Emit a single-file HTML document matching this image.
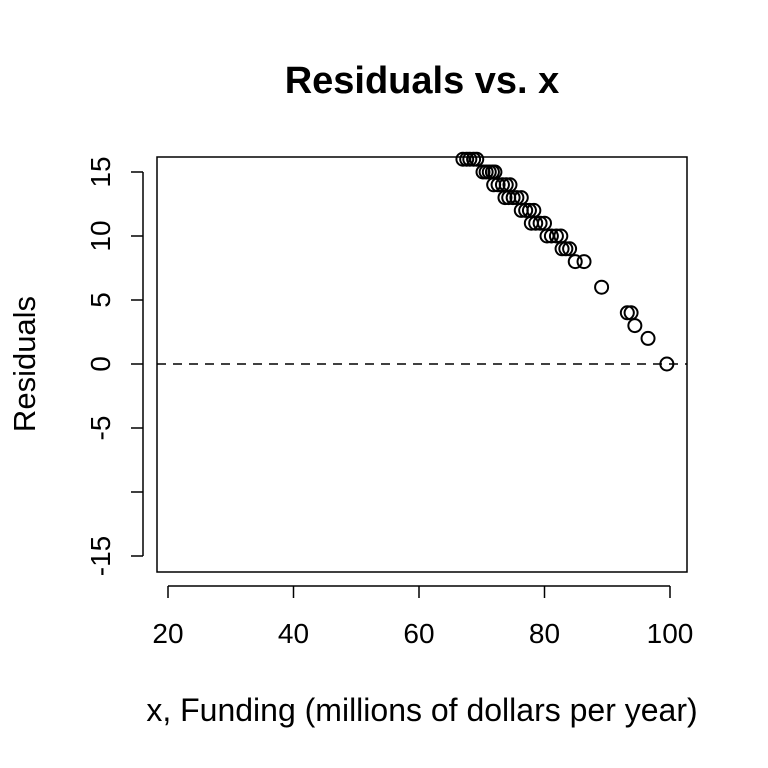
<!DOCTYPE html>
<html><head><meta charset="utf-8"><style>body{margin:0;background:#fff}svg{display:block}text{font-family:"Liberation Sans",Arial,sans-serif}</style></head>
<body>
<svg id="c" width="768" height="768">
<text x="422" y="93" text-anchor="middle" font-size="38" font-weight="bold">Residuals vs. x</text>
<text x="422" y="721" text-anchor="middle" font-size="32">x, Funding (millions of dollars per year)</text>
<text transform="translate(35,364) rotate(-90)" text-anchor="middle" font-size="31">Residuals</text>
<rect x="157" y="157" width="530" height="415" fill="none" stroke="#000" stroke-width="1.5"/>
<g id="axes"></g>
<g id="pts"></g>
</svg>
<script>
const xTicks=[20,40,60,80,100];
const yTicks=[15,10,5,0,-5,-10,-15];
const yTickLabels=["15","10","5","0","-5","","-15"];
const resLevels=[16,15,14,13,12,11,10,9,8,6,4,3,2,0];
const xValues=[[67.0,67.6,68.1,68.7,69.2],[70.2,70.7,71.2,71.7,72.1],[71.9,72.6,73.3,73.9,74.5],[73.7,74.3,75.0,75.6,76.3],[76.3,77.0,77.6,78.3],[77.9,78.6,79.3,80.0],[80.4,81.1,81.9,82.6],[82.8,83.4,84.0],[84.9,86.3],[89.1],[93.2,93.8],[94.4],[96.5],[99.5]];
const NS="http://www.w3.org/2000/svg";
const sx=v=>168+(v-20)*502/80;
const sy=v=>364-v*192/15;
function mk(t,a,p){const e=document.createElementNS(NS,t);for(const k in a)e.setAttribute(k,a[k]);p.appendChild(e);return e;}
const ax=document.getElementById('axes'),pts=document.getElementById('pts');
const xl=mk('line',{x1:sx(20),x2:sx(100),y1:586,y2:586,stroke:'#000','stroke-width':1.5},ax);


xTicks.forEach(v=>{
 const t=mk('line',{x1:sx(v),x2:sx(v),y1:586,y2:598,stroke:'#000','stroke-width':1.5},ax);
 
 
 const l=mk('text',{x:sx(v),y:643,'text-anchor':'middle','font-size':28},ax);l.textContent=v;
 
 
});
const yl=mk('line',{x1:143,x2:143,y1:sy(15),y2:sy(-15),stroke:'#000','stroke-width':1.5},ax);


yTicks.forEach((v,i)=>{
 const t=mk('line',{x1:131,x2:143,y1:sy(v),y2:sy(v),stroke:'#000','stroke-width':1.5},ax);
 
 
 const l=mk('text',{transform:`translate(110,${sy(v)}) rotate(-90)`,'text-anchor':'middle','font-size':28},ax);l.textContent=yTickLabels[i];
 
 
});
const zl=mk('line',{x1:157,x2:687,y1:sy(0),y2:sy(0),stroke:'#000','stroke-width':1.5,'stroke-dasharray':'9,7'},ax);


resLevels.forEach((r,i)=>xValues[i].forEach(x=>{
 const c=mk('circle',{cx:sx(x),cy:sy(r),r:6.5,fill:'none',stroke:'#000','stroke-width':2},pts);
 
 
}));
</script>
</body></html>
